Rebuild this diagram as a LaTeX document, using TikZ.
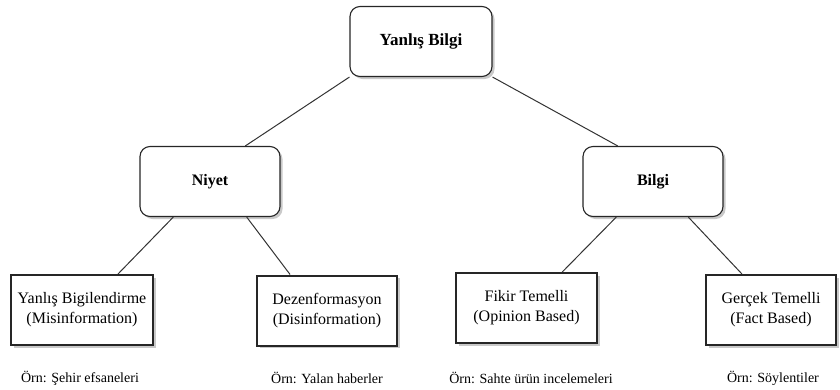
\documentclass[tikz,border=0pt]{standalone}
\usepackage{fontspec}
\setmainfont{Liberation Serif}
\usetikzlibrary{shadows,calc,backgrounds}
\begin{document}
\begin{tikzpicture}[x=1pt,y=-1pt,
  shad/.style={drop shadow={shadow xshift=2.5pt, shadow yshift=-2.5pt, opacity=0.3, fill=black!70}},
  rbox/.style={draw=black!85, line width=1.1pt, rounded corners=10pt, fill=white,
    minimum width=140pt, minimum height=70pt, inner sep=0pt, shad,
    font=\fontsize{16}{19}\selectfont\bfseries},
  sbox/.style={draw=black!85, line width=2pt, fill=white, minimum height=70pt,
    inner sep=0pt, align=center, shad, font=\fontsize{16}{20}\selectfont},
  ex/.style={font=\fontsize{14}{17}\selectfont, inner sep=0pt},
  link/.style={draw=black!80, line width=1pt}]
\useasboundingbox (0,0) rectangle (840,389);
\node[rbox, minimum width=142pt, font=\fontsize{17}{20}\selectfont\bfseries] (root) at (421,41.5) {Yanlış Bilgi};
\node[rbox] (niyet) at (210,181.5) {Niyet};
\node[rbox] (bilgi) at (653,181.5) {Bilgi};
\node[sbox, minimum width=142pt] (mis) at (82,310) {Yanlış Bigilendirme\\(Misinformation)};
\node[sbox, minimum width=140pt] (dis) at (327,310.5) {Dezenformasyon\\(Disinformation)};
\node[sbox, minimum width=141pt] (op) at (526.5,308) {Fikir Temelli\\(Opinion Based)};
\node[sbox, minimum width=130pt] (fact) at (771,310) {Gerçek Temelli\\(Fact Based)};
\node[ex] (exmis) at (80,378) {Örn: Şehir efsaneleri};
\node[ex] (exdis) at (327,378) {Örn: Yalan haberler};
\node[ex] (exop) at (531,378) {Örn: Sahte ürün incelemeleri};
\node[ex] (exfact) at (773,378) {Örn: Söylentiler};
\begin{scope}[on background layer]
\draw[link] (root.south west) -- ($(niyet.north west)!0.75!(niyet.north east)$);
\draw[link] (root.south east) -- ($(bilgi.north west)!0.25!(bilgi.north east)$);
\draw[link] ($(niyet.south west)!0.24!(niyet.south east)$) -- ($(mis.north west)!0.75!(mis.north east)$);
\draw[link] ($(niyet.south west)!0.76!(niyet.south east)$) -- ($(dis.north west)!0.24!(dis.north east)$);
\draw[link] ($(bilgi.south west)!0.24!(bilgi.south east)$) -- ($(op.north west)!0.75!(op.north east)$);
\draw[link] ($(bilgi.south west)!0.75!(bilgi.south east)$) -- ($(fact.north west)!0.28!(fact.north east)$);
\end{scope}
\end{tikzpicture}
\end{document}
